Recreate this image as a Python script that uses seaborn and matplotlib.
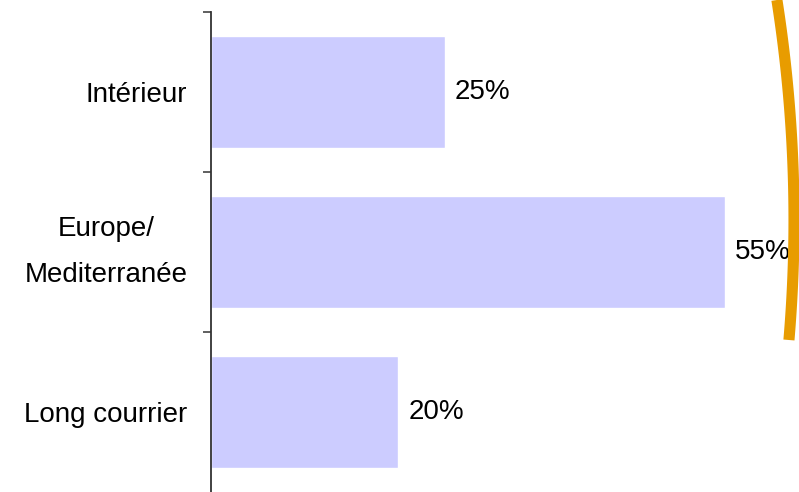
import numpy as np
import pandas as pd
import seaborn as sns
import matplotlib.pyplot as plt
from matplotlib.lines import Line2D

# Données
categories = ['Intérieur', 'Europe/\nMediterranée', 'Long courrier']
parts = [25, 55, 20]
etiquettes = ['25%', '55%', '20%']

df = pd.DataFrame({'categorie': categories, 'part': parts})

sns.set_style('white')
plt.rcParams['font.family'] = ['Liberation Sans', 'DejaVu Sans']
plt.rcParams['text.color'] = 'black'
plt.rcParams['ytick.labelcolor'] = 'black'

fig = plt.figure(figsize=(7.99, 4.92), dpi=100)
ax = fig.add_axes([211 / 799, 0, 558 / 799, 480 / 492])

sns.barplot(data=df, x='part', y='categorie', orient='h', color='#ccccff',
            saturation=1, width=0.7, ax=ax)

for i, (v, t) in enumerate(zip(parts, etiquettes)):
    ax.text(v + 1.1, i, t, va='center', ha='left', fontsize=20, color='black')

ax.set_xlim(0, 59.7)
ax.set_ylim(2.5, -0.5)
ax.set_xlabel('')
ax.set_ylabel('')
ax.set_xticks([])

for s in ['top', 'right', 'bottom']:
    ax.spines[s].set_visible(False)
ax.spines['left'].set_color('#333333')
ax.spines['left'].set_linewidth(1.3)

ax.tick_params(axis='y', which='major', length=0, pad=17, labelsize=20)
for lab in ax.get_yticklabels():
    lab.set_multialignment('center')
    lab.set_linespacing(2.0)
    lab.set_color('black')
    if '\n' in lab.get_text():
        lab.set_verticalalignment('center')
ax.set_yticks([-0.5, 0.5, 1.5], minor=True)
ax.tick_params(axis='y', which='minor', length=6, width=1.2, color='#444444', left=True)

# accolade orange à droite
yy = np.linspace(0, 340, 100)
xx = 794 - (1424 - np.sqrt(1424 ** 2 - (yy - 220) ** 2))
fig.add_artist(Line2D(xx / 799, 1 - yy / 492, transform=fig.transFigure,
                      color='#e89c00', linewidth=8, solid_capstyle='butt'))

fig.savefig('out.png', dpi=100)
